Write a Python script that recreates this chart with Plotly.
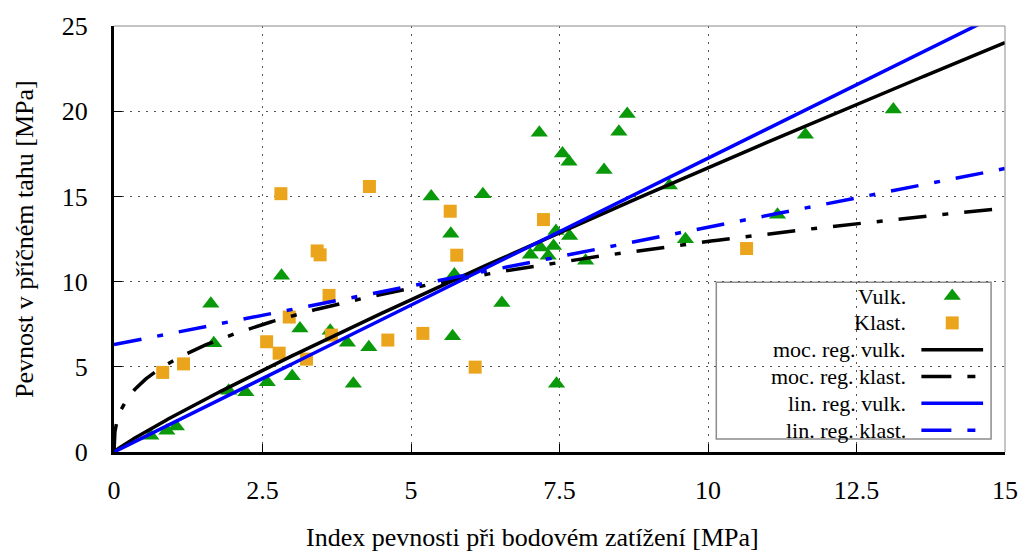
import numpy as np
import plotly.graph_objects as go

# --- measured data: point load index Is vs. tensile strength ---
vulk_x = [0.62, 0.89, 1.05, 1.63, 1.68, 1.93, 2.22, 2.82, 2.58, 3.00, 3.13, 3.64, 3.93, 4.03,
          4.29, 5.34, 6.21, 5.67, 5.73, 6.53, 5.70, 7.01, 7.18, 7.31, 7.40, 7.44, 7.67, 7.94,
          7.16, 7.55, 7.66, 8.25, 8.50, 8.64, 7.45, 9.35, 9.62, 11.17, 11.64, 13.12]
vulk_y = [0.95, 1.24, 1.49, 8.70, 6.38, 3.60, 3.50, 10.35, 4.09, 4.44, 7.25, 7.11, 6.41, 4.01,
          6.14, 15.00, 15.13, 12.81, 10.41, 8.74, 6.80, 11.57, 12.00, 11.51, 12.09, 12.97, 12.67, 11.22,
          18.74, 17.52, 17.03, 16.55, 18.80, 19.84, 4.01, 15.64, 12.48, 13.93, 18.62, 20.10]

klast_x = [0.82, 1.17, 2.57, 2.78, 2.81, 2.95, 3.24, 3.42, 3.47, 3.62, 3.66, 4.30, 4.61,
           5.20, 5.66, 5.77, 6.08, 7.23, 10.65]
klast_y = [4.67, 5.17, 6.47, 5.80, 15.16, 7.92, 5.45, 11.80, 11.57, 9.19, 6.86, 15.58, 6.57,
           6.96, 14.13, 11.55, 4.98, 13.64, 11.94]

# --- regression models ---
moc_vulk_a, moc_vulk_b = 2.10, 0.90      # y = a * x^b
moc_klast_a, moc_klast_b = 5.37, 0.362   # y = a * x^b
lin_vulk_k = 1.724                       # y = k * x
lin_klast_k, lin_klast_q = 0.689, 6.30   # y = k * x + q

x_ticks = [0, 2.5, 5, 7.5, 10, 12.5, 15]
x_tick_text = ["0", "2.5", "5", "7.5", "10", "12.5", "15"]
y_ticks = [0, 5, 10, 15, 20, 25]

legend_labels = ["Vulk.", "Klast.", "moc. reg. vulk.", "moc. reg. klast.",
                 "lin. reg. vulk.", "lin. reg. klast."]

GREEN = "#0a990a"
ORANGE = "#eaa51c"
BLUE = "#0000ff"
DASHDOT = "28px,16px,6px,16px"
FONT = "Liberation Serif"

xs = np.concatenate([np.geomspace(1e-4, 1, 200), np.linspace(1, 15, 300)[1:]])
xs = np.concatenate([[0.0], xs])

fig = go.Figure()

fig.add_trace(go.Scatter(x=vulk_x, y=vulk_y, mode="markers", name="Vulk.",
                         marker=dict(symbol="triangle-up", size=15, color=GREEN,
                                     line=dict(width=0))))
fig.add_trace(go.Scatter(x=klast_x, y=klast_y, mode="markers", name="Klast.",
                         marker=dict(symbol="square", size=13, color=ORANGE,
                                     line=dict(width=0))))

fig.add_trace(go.Scatter(x=xs, y=moc_vulk_a * xs ** moc_vulk_b, mode="lines",
                         line=dict(color="black", width=3.5)))
fig.add_trace(go.Scatter(x=xs, y=moc_klast_a * xs ** moc_klast_b, mode="lines",
                         line=dict(color="black", width=3.5, dash=DASHDOT)))
fig.add_trace(go.Scatter(x=xs, y=lin_vulk_k * xs, mode="lines",
                         line=dict(color=BLUE, width=3.5)))
fig.add_trace(go.Scatter(x=xs, y=lin_klast_k * xs + lin_klast_q, mode="lines",
                         line=dict(color=BLUE, width=3.5, dash=DASHDOT)))

# --- key box drawn on a pixel-scaled overlay axis ---
L, R, T, B = 114, 1009, 23, 452
row_y = [295, 322, 349, 376, 403, 430]
text_right = 912
sample_x0, sample_x1 = 925, 987
sample_mid = 956

fig.add_trace(go.Scatter(x=[sample_mid], y=[row_y[0]], xaxis="x2", yaxis="y2", mode="markers",
                         marker=dict(symbol="triangle-up", size=15, color=GREEN)))
fig.add_trace(go.Scatter(x=[sample_mid], y=[row_y[1]], xaxis="x2", yaxis="y2", mode="markers",
                         marker=dict(symbol="square", size=13, color=ORANGE)))
styles = [("black", None), ("black", DASHDOT), (BLUE, None), (BLUE, DASHDOT)]
for (col, dash), yy in zip(styles, row_y[2:]):
    fig.add_trace(go.Scatter(x=[sample_x0, sample_x1], y=[yy, yy], xaxis="x2", yaxis="y2",
                             mode="lines", line=dict(color=col, width=3.5,
                                                     dash=("30px,16px,8px,16px" if dash else None))))

shapes = [
    # thin upper and right frame
    dict(type="line", xref="paper", yref="paper", x0=0, x1=1, y0=1, y1=1,
         line=dict(color="#8a8a8a", width=1)),
    dict(type="line", xref="paper", yref="paper", x0=1, x1=1, y0=0, y1=1,
         line=dict(color="#8a8a8a", width=1)),
    # key box
    dict(type="rect", xref="x2", yref="y2", x0=719, x1=995, y0=281, y1=439,
         line=dict(color="#8c8c8c", width=1.5), fillcolor="white", layer="below"),
]

annotations = []
for lab, yy in zip(legend_labels, row_y):
    annotations.append(dict(x=text_right, y=yy, xref="x2", yref="y2", text=lab,
                            showarrow=False, xanchor="right", yanchor="middle",
                            font=dict(family=FONT, size=22, color="black")))
annotations.append(dict(x=0.47, y=0, xref="paper", yref="paper", yshift=-85,
                        text="Index pevnosti při bodovém zatížení [MPa]", showarrow=False,
                        xanchor="center", yanchor="middle",
                        font=dict(family=FONT, size=26, color="black")))
annotations.append(dict(x=0, y=0.5, xref="paper", yref="paper", xshift=-90,
                        text="Pevnost v příčném tahu [MPa]", showarrow=False, textangle=-90,
                        xanchor="center", yanchor="middle",
                        font=dict(family=FONT, size=26, color="black")))

grid_style = dict(showgrid=True, gridcolor="#555555", griddash="2px,6px", gridwidth=1)

fig.update_layout(
    width=1030, height=551,
    margin=dict(l=L, r=1030 - R, t=T, b=551 - B),
    plot_bgcolor="white", paper_bgcolor="white",
    showlegend=False,
    shapes=shapes, annotations=annotations,
    xaxis=dict(range=[0, 15], tickvals=x_ticks, ticktext=x_tick_text, **grid_style,
               showline=True, linecolor="black", linewidth=3,
               ticks="inside", ticklen=8, tickcolor="black", ticklabelstandoff=13,
               zeroline=False, tickfont=dict(family=FONT, size=26, color="black")),
    yaxis=dict(range=[0, 25], tickvals=y_ticks, **grid_style,
               showline=True, linecolor="black", linewidth=3,
               ticks="inside", ticklen=8, tickcolor="black", ticklabelstandoff=18,
               zeroline=False, tickfont=dict(family=FONT, size=26, color="black")),
    xaxis2=dict(range=[L, R], overlaying="x", visible=False, fixedrange=True),
    yaxis2=dict(range=[B, T], overlaying="y", visible=False, fixedrange=True),
)

fig.write_html("out.html")
